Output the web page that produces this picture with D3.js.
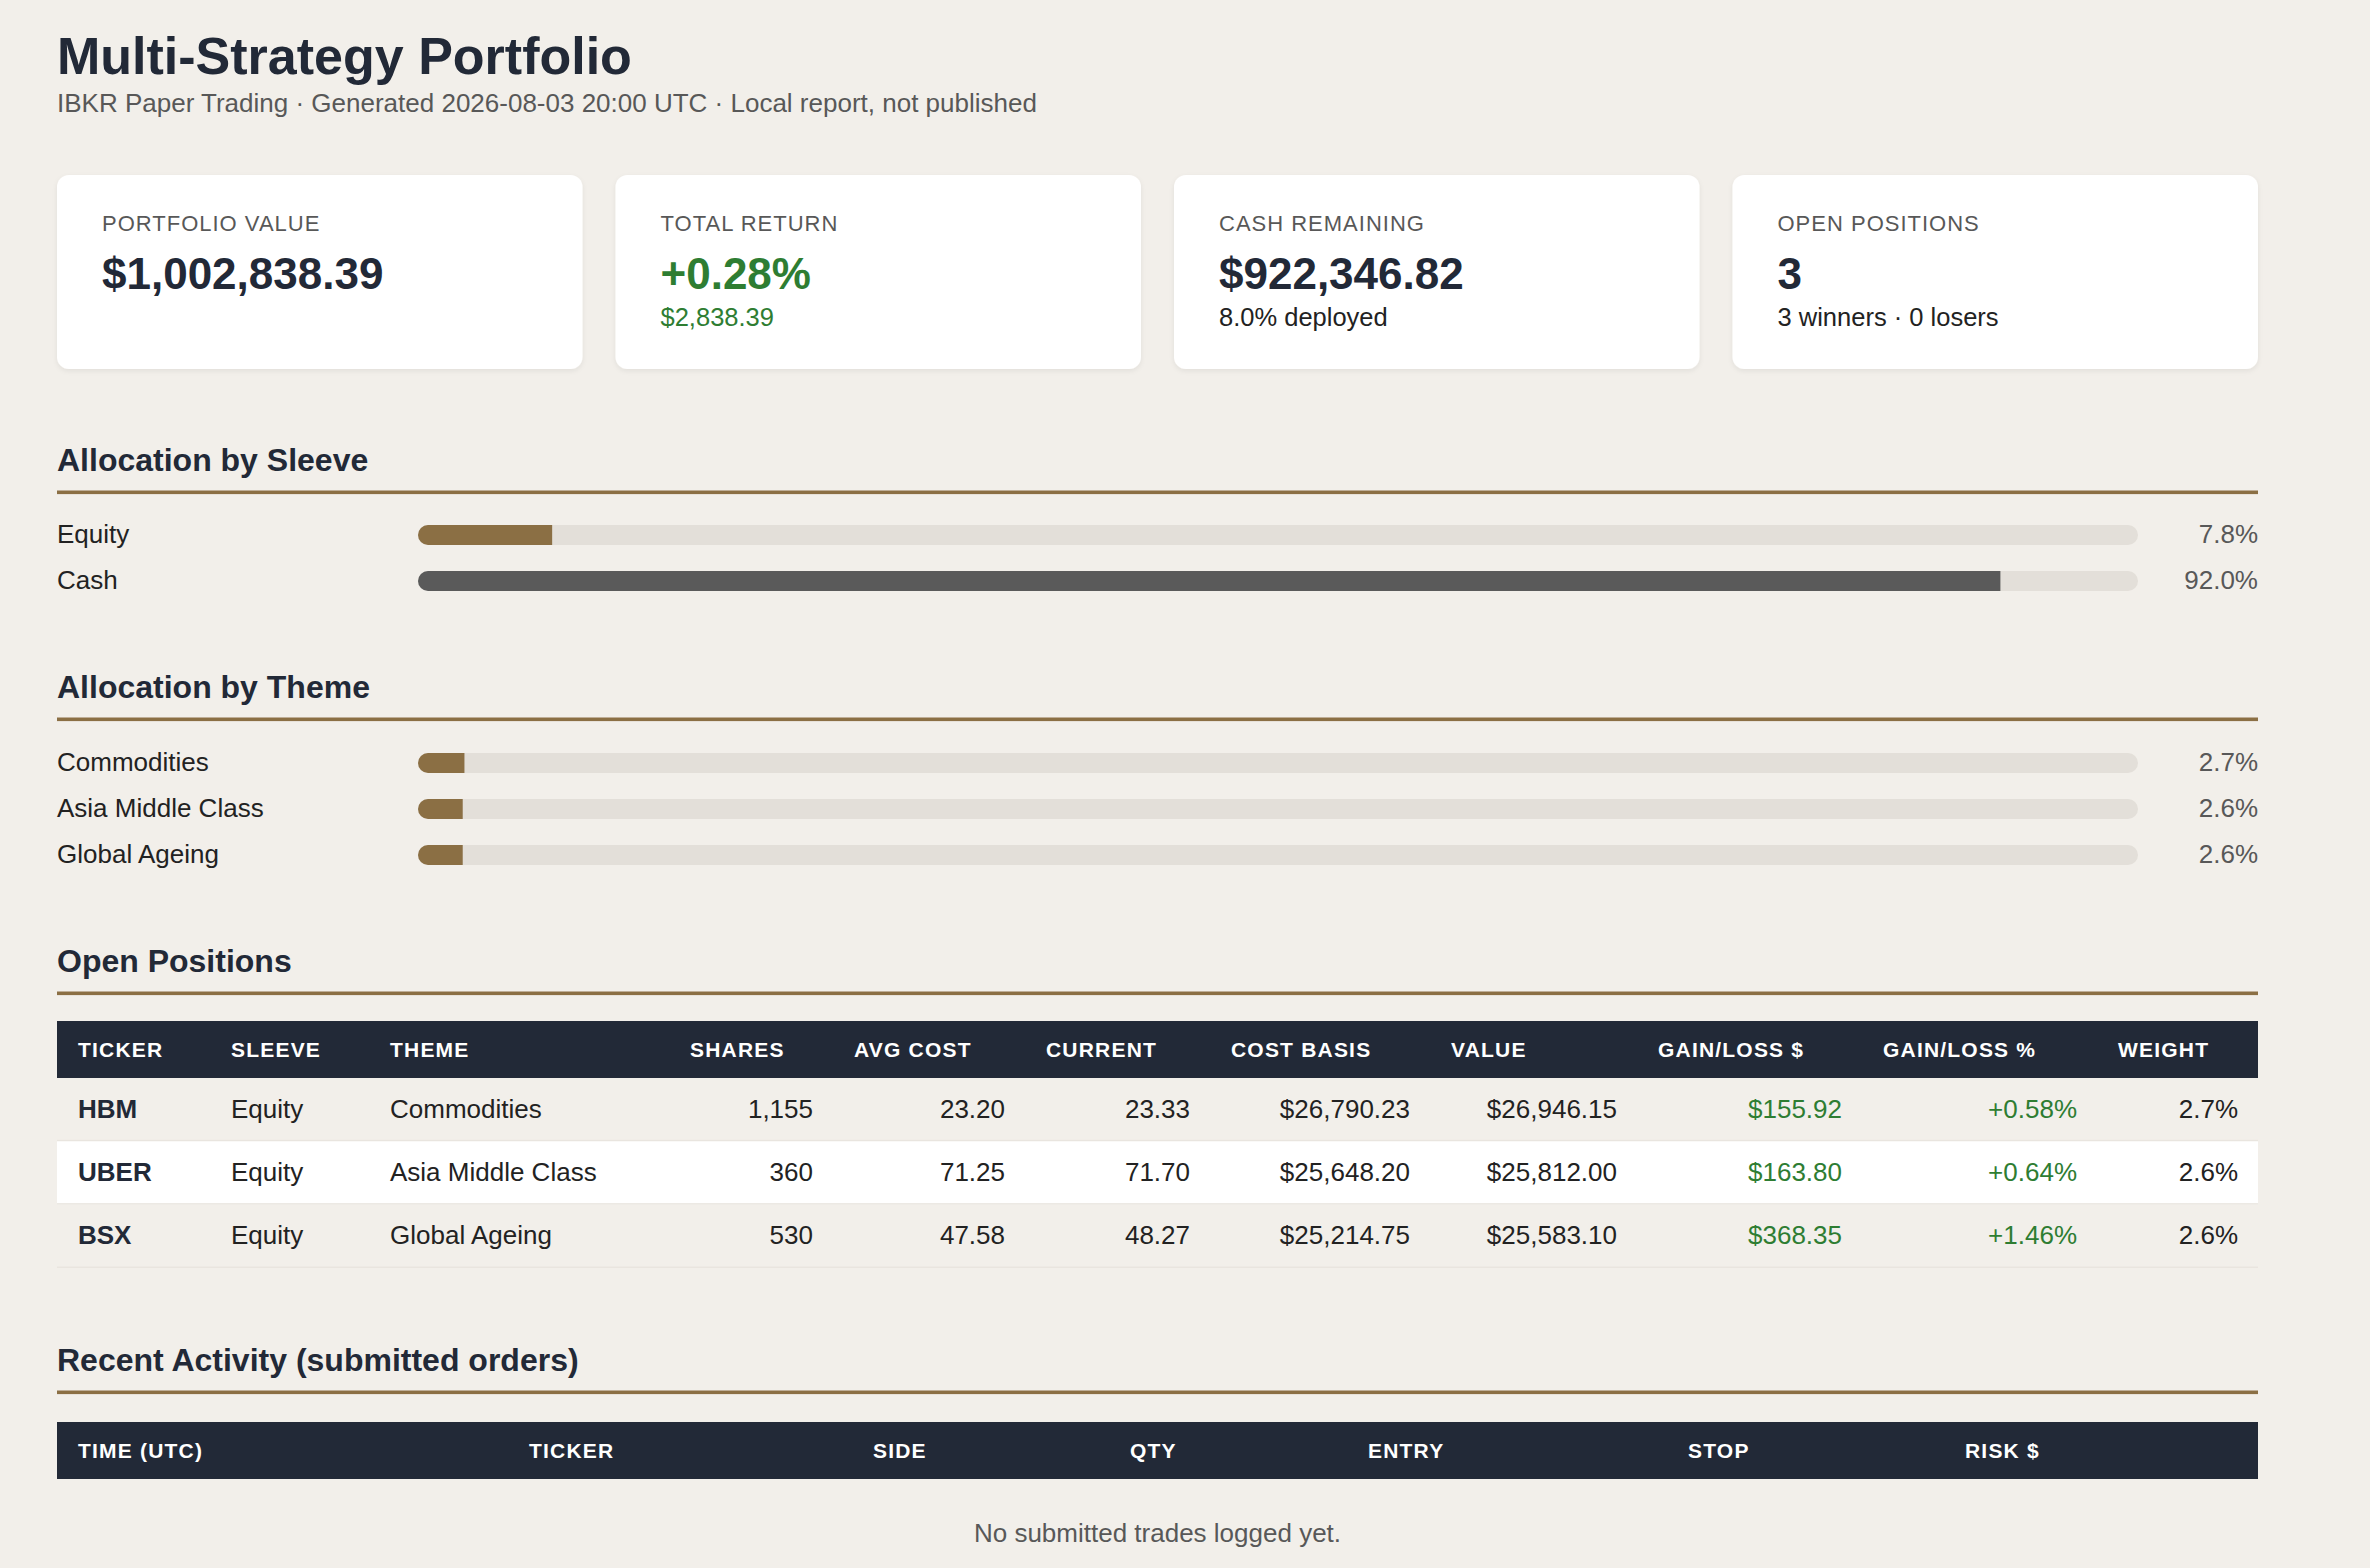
<!DOCTYPE html>
<html>
<head>
<meta charset="utf-8">
<script src="https://cdn.jsdelivr.net/npm/d3@7"></script>
<style>
  html, body { margin: 0; padding: 0; background: #f2efea; }
  svg { display: block; font-family: "Liberation Sans", Arial, Helvetica, sans-serif; }
</style>
</head>
<body>
<div id="chart"></div>
<script>
// report data
const kpiLabels = ["PORTFOLIO VALUE", "TOTAL RETURN", "CASH REMAINING", "OPEN POSITIONS"]
const kpiValues = [1002838.39, 0.28, 922346.82, 3]
const kpiSubs = ["", "$2,838.39", "8.0% deployed", "3 winners \u00b7 0 losers"]

const sleeves = ["Equity", "Cash"]
const sleevePct = [7.8, 92.0]
const themes = ["Commodities", "Asia Middle Class", "Global Ageing"]
const themePct = [2.7, 2.6, 2.6]

const posHeaders = ["TICKER", "SLEEVE", "THEME", "SHARES", "AVG COST", "CURRENT", "COST BASIS", "VALUE", "GAIN/LOSS $", "GAIN/LOSS %", "WEIGHT"]
const tickers = ["HBM", "UBER", "BSX"]
const posSleeve = ["Equity", "Equity", "Equity"]
const posTheme = ["Commodities", "Asia Middle Class", "Global Ageing"]
const shares = [1155, 360, 530]
const avgCost = [23.20, 71.25, 47.58]
const current = [23.33, 71.70, 48.27]
const costBasis = [26790.23, 25648.20, 25214.75]
const posValue = [26946.15, 25812.00, 25583.10]
const gainLoss = [155.92, 163.80, 368.35]
const gainLossPct = [0.58, 0.64, 1.46]
const weight = [2.7, 2.6, 2.6]

const activityHeaders = ["TIME (UTC)", "TICKER", "SIDE", "QTY", "ENTRY", "STOP", "RISK $"]
const trades = []

const W = 2370, H = 1568
const LEFT = 57, RIGHT = 2258
const NAVY = "#222937", GOLD = "#8b6f44", GREEN = "#2e7d32", GREY = "#585858", INK = "#222222"

const money = d3.format("$,.2f")
const num2 = d3.format(".2f")
const pct1 = d => d3.format(".1f")(d) + "%"
const signedPct = d => d3.format("+.2f")(d) + "%"

const svg = d3.select("#chart").append("svg")
    .attr("width", W)
    .attr("height", H)

const defs = svg.append("defs")
defs.append("filter").attr("id", "shadow")
    .attr("x", "-5%").attr("y", "-5%").attr("width", "110%").attr("height", "120%")
  .append("feDropShadow")
    .attr("dx", 0).attr("dy", 2).attr("stdDeviation", 2.5)
    .attr("flood-color", "#000").attr("flood-opacity", 0.07)

// title
svg.append("text")
    .attr("x", LEFT).attr("y", 74)
    .attr("font-size", 52).attr("font-weight", 700).attr("fill", NAVY)
    .text("Multi-Strategy Portfolio")

svg.append("text")
    .attr("x", LEFT).attr("y", 112)
    .attr("font-size", 26).attr("fill", GREY)
    .text("IBKR Paper Trading \u00b7 Generated 2026-08-03 20:00 UTC \u00b7 Local report, not published")

// KPI cards
const cardX = d3.scaleBand()
    .domain(kpiLabels)
    .range([LEFT, RIGHT + 33])
    .paddingInner(0)
const cardW = cardX.bandwidth() - 33

const cards = svg.selectAll(".card")
    .data(kpiLabels)
    .enter().append("g")
    .attr("class", "card")
    .attr("transform", d => `translate(${cardX(d)},175)`)

cards.append("rect")
    .attr("width", cardW).attr("height", 194)
    .attr("rx", 12)
    .attr("fill", "#fff")
    .attr("filter", "url(#shadow)")

cards.append("text")
    .attr("x", 45).attr("y", 56)
    .attr("font-size", 22).attr("letter-spacing", 1).attr("fill", GREY)
    .text(d => d)

const kpiFormat = [money, d => "+" + d3.format(".2f")(d) + "%", money, d3.format("d")]
cards.append("text")
    .attr("x", 45).attr("y", 114)
    .attr("font-size", 44).attr("font-weight", 700)
    .attr("fill", (d, i) => i === 1 ? GREEN : NAVY)
    .text((d, i) => kpiFormat[i](kpiValues[i]))

cards.append("text")
    .attr("x", 45).attr("y", 151)
    .attr("font-size", 25.5)
    .attr("fill", (d, i) => i === 1 ? GREEN : INK)
    .text((d, i) => kpiSubs[i])

// section heading + rule
function heading(label, baseline) {
    svg.append("text")
        .attr("x", LEFT).attr("y", baseline)
        .attr("font-size", 32).attr("font-weight", 700).attr("fill", NAVY)
        .text(label)
    svg.append("rect")
        .attr("x", LEFT).attr("y", baseline + 19.5)
        .attr("width", RIGHT - LEFT).attr("height", 3.6)
        .attr("fill", GOLD)
}

// allocation bars
const barX = d3.scaleLinear().domain([0, 100]).range([418, 2138])
const BAR_H = 20

function allocation(id, cats, vals, top, colorFor) {
    const y = d3.scaleBand().domain(cats).range([top, top + cats.length * 46])
    const rows = svg.selectAll("." + id)
        .data(cats)
        .enter().append("g")
        .attr("class", id)
        .attr("transform", d => `translate(0,${y(d) + y.bandwidth() / 2})`)

    rows.append("clipPath")
        .attr("id", (d, i) => `${id}-clip-${i}`)
      .append("rect")
        .attr("x", barX(0)).attr("y", -BAR_H / 2)
        .attr("width", barX(100) - barX(0)).attr("height", BAR_H)
        .attr("rx", BAR_H / 2)

    rows.append("rect")
        .attr("x", barX(0)).attr("y", -BAR_H / 2)
        .attr("width", barX(100) - barX(0)).attr("height", BAR_H)
        .attr("rx", BAR_H / 2)
        .attr("fill", "#e3dfd9")

    rows.append("rect")
        .attr("clip-path", (d, i) => `url(#${id}-clip-${i})`)
        .attr("x", barX(0)).attr("y", -BAR_H / 2)
        .attr("width", (d, i) => barX(vals[i]) - barX(0)).attr("height", BAR_H)
        .attr("fill", d => colorFor(d))

    rows.append("text")
        .attr("x", LEFT).attr("y", 8)
        .attr("font-size", 26).attr("fill", INK)
        .text(d => d)

    rows.append("text")
        .attr("x", RIGHT).attr("y", 8)
        .attr("text-anchor", "end")
        .attr("font-size", 26).attr("fill", GREY)
        .text((d, i) => pct1(vals[i]))
}

heading("Allocation by Sleeve", 471)
allocation("sleeve", sleeves, sleevePct, 512, d => d === "Cash" ? "#5a5a5a" : GOLD)

heading("Allocation by Theme", 698)
allocation("theme", themes, themePct, 740, () => GOLD)

// open positions table
heading("Open Positions", 972)

const posEdges = [57, 210, 369, 669, 833, 1025, 1210, 1430, 1637, 1862, 2097, 2258]
const posColX = d3.scaleOrdinal().domain(posHeaders).range(posEdges.slice(0, -1))
const posColEnd = d3.scaleOrdinal().domain(posHeaders).range(posEdges.slice(1))

svg.append("rect")
    .attr("x", LEFT).attr("y", 1021)
    .attr("width", RIGHT - LEFT).attr("height", 57)
    .attr("fill", NAVY)

svg.selectAll(".pos-head")
    .data(posHeaders)
    .enter().append("text")
    .attr("class", "pos-head")
    .attr("x", d => posColX(d) + 21)
    .attr("y", 1057)
    .attr("font-size", 21).attr("font-weight", 700).attr("letter-spacing", 1.2)
    .attr("fill", "#fff")
    .text(d => d)

const rowY = d3.scaleBand().domain(tickers).range([1078, 1268])

const posRows = svg.selectAll(".pos-row")
    .data(tickers)
    .enter().append("g")
    .attr("class", "pos-row")
    .attr("transform", d => `translate(0,${rowY(d)})`)

posRows.append("rect")
    .attr("x", LEFT).attr("width", RIGHT - LEFT)
    .attr("height", rowY.bandwidth())
    .attr("fill", (d, i) => i % 2 === 1 ? "#ffffff" : "none")

posRows.append("rect")
    .attr("x", LEFT).attr("width", RIGHT - LEFT)
    .attr("y", rowY.bandwidth() - 1.5).attr("height", 1.5)
    .attr("fill", "#e9e5df")

const cellText = [
    i => tickers[i],
    i => posSleeve[i],
    i => posTheme[i],
    i => d3.format(",")(shares[i]),
    i => num2(avgCost[i]),
    i => num2(current[i]),
    i => money(costBasis[i]),
    i => money(posValue[i]),
    i => money(gainLoss[i]),
    i => signedPct(gainLossPct[i]),
    i => pct1(weight[i])
]

posHeaders.forEach((col, c) => {
    posRows.append("text")
        .attr("x", c < 3 ? posColX(col) + 21 : posColEnd(col) - 20)
        .attr("y", rowY.bandwidth() / 2 + 8)
        .attr("text-anchor", c < 3 ? "start" : "end")
        .attr("font-size", 26)
        .attr("font-weight", c === 0 ? 700 : 400)
        .attr("fill", c === 0 ? NAVY : (c === 8 || c === 9) ? GREEN : INK)
        .text((d, i) => cellText[c](i))
})

// recent activity
heading("Recent Activity (submitted orders)", 1371)

const actEdges = [57, 508, 852, 1109, 1347, 1667, 1944]
const actColX = d3.scaleOrdinal().domain(activityHeaders).range(actEdges)

svg.append("rect")
    .attr("x", LEFT).attr("y", 1422)
    .attr("width", RIGHT - LEFT).attr("height", 57)
    .attr("fill", NAVY)

svg.selectAll(".act-head")
    .data(activityHeaders)
    .enter().append("text")
    .attr("class", "act-head")
    .attr("x", d => actColX(d) + 21)
    .attr("y", 1458)
    .attr("font-size", 21).attr("font-weight", 700).attr("letter-spacing", 1.2)
    .attr("fill", "#fff")
    .text(d => d)

if (trades.length === 0) {
    svg.append("text")
        .attr("x", (LEFT + RIGHT) / 2).attr("y", 1542)
        .attr("text-anchor", "middle")
        .attr("font-size", 26).attr("fill", GREY)
        .text("No submitted trades logged yet.")
}
</script>
</body>
</html>
